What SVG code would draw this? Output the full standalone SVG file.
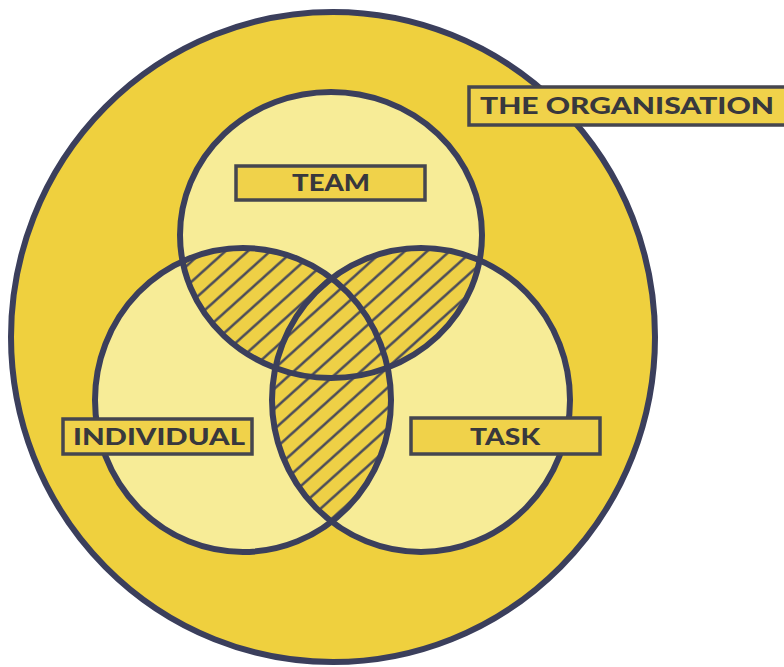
<svg xmlns="http://www.w3.org/2000/svg" width="784" height="667" viewBox="0 0 784 667">
<style>
.ln{fill:none;stroke:#3b3f5c;stroke-width:6}
.lt{fill:#f7ec97}
.lbl{fill:#f0d24a;stroke:#45464f;stroke-width:3.5}
.tx{font-family:Lato,"Open Sans",sans-serif;font-weight:900;font-size:23px;fill:#38383d;text-anchor:middle}
</style>
<defs>
<pattern id="hatch" patternUnits="userSpaceOnUse" width="15" height="15" patternTransform="rotate(48)">
<rect width="15" height="15" fill="#eed046"/>
<line x1="7.5" y1="-2" x2="7.5" y2="17" stroke="#3b3f5c" stroke-width="2.3"/>
</pattern>
<clipPath id="cTeam"><ellipse cx="331" cy="235" rx="151" ry="143"/></clipPath>
<clipPath id="cInd"><ellipse cx="243" cy="400" rx="148" ry="152"/></clipPath>
<clipPath id="cTask"><ellipse cx="421" cy="400" rx="149" ry="152"/></clipPath>
</defs>
<rect width="784" height="667" fill="#ffffff"/>
<g id="organisation">
<ellipse cx="333" cy="337" rx="322" ry="325" fill="#efd03e" stroke="#3b3f5c" stroke-width="6"/>
</g>
<g id="circles-fill">
<ellipse class="lt" cx="331" cy="235" rx="151" ry="143"/>
<ellipse class="lt" cx="243" cy="400" rx="148" ry="152"/>
<ellipse class="lt" cx="421" cy="400" rx="149" ry="152"/>
</g>
<g id="overlaps">
<ellipse cx="331" cy="235" rx="151" ry="143" fill="url(#hatch)" clip-path="url(#cInd)"/>
<ellipse cx="331" cy="235" rx="151" ry="143" fill="url(#hatch)" clip-path="url(#cTask)"/>
<ellipse cx="243" cy="400" rx="148" ry="152" fill="url(#hatch)" clip-path="url(#cTask)"/>
</g>
<g id="team">
<ellipse class="ln" cx="331" cy="235" rx="151" ry="143"/>
</g>
<g id="individual">
<ellipse class="ln" cx="243" cy="400" rx="148" ry="152"/>
</g>
<g id="task">
<ellipse class="ln" cx="421" cy="400" rx="149" ry="152"/>
</g>
<g id="label-organisation">
<rect class="lbl" x="469" y="87" width="330" height="38"/>
<text class="tx" x="627" y="114" textLength="294" lengthAdjust="spacingAndGlyphs">THE ORGANISATION</text>
</g>
<g id="label-team">
<rect class="lbl" x="236" y="166" width="189" height="34"/>
<text class="tx" x="331" y="191" textLength="78" lengthAdjust="spacingAndGlyphs">TEAM</text>
</g>
<g id="label-individual">
<rect class="lbl" x="63" y="419" width="189" height="35"/>
<text class="tx" x="159" y="445" textLength="172" lengthAdjust="spacingAndGlyphs">INDIVIDUAL</text>
</g>
<g id="label-task">
<rect class="lbl" x="411" y="418" width="189" height="36"/>
<text class="tx" x="505" y="445" textLength="70" lengthAdjust="spacingAndGlyphs">TASK</text>
</g>
</svg>
